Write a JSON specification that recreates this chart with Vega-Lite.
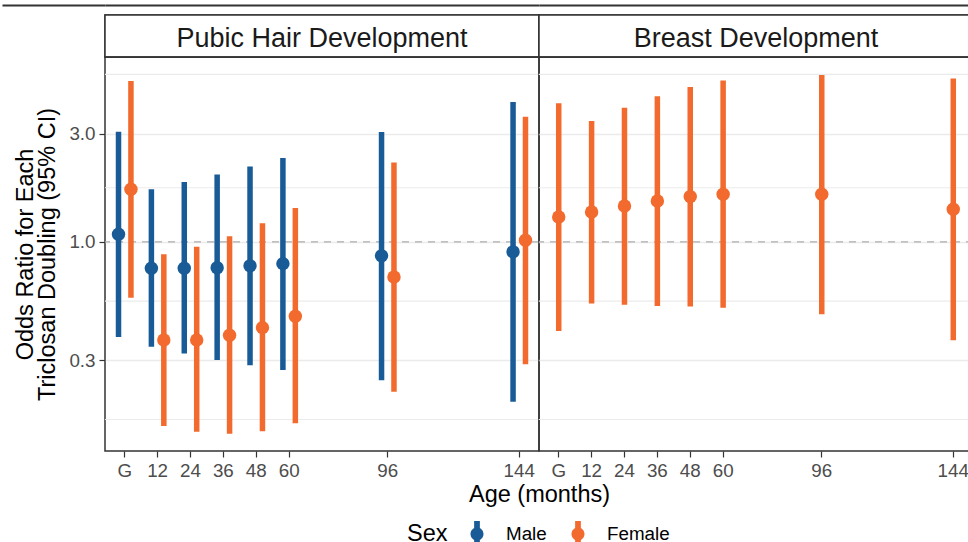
{
  "$schema": "https://vega.github.io/schema/vega-lite/v6.json",
  "padding": {"left": 0, "top": 3, "right": 0, "bottom": 0},
  "config": {
    "font": "Liberation Sans",
    "view": {"stroke": "#333333", "strokeWidth": 1.5},
    "axis": {"gridColor": "#EBEBEB", "gridWidth": 1.5}
  },
  "datasets": {
    "pubic": [
      {"age": 0, "Sex": "Male", "or": 1.080, "lower": 0.380, "upper": 3.06},
      {"age": 0, "Sex": "Female", "or": 1.707, "lower": 0.567, "upper": 5.13},
      {"age": 12, "Sex": "Male", "or": 0.765, "lower": 0.344, "upper": 1.707},
      {"age": 12, "Sex": "Female", "or": 0.369, "lower": 0.154, "upper": 0.882},
      {"age": 24, "Sex": "Male", "or": 0.765, "lower": 0.321, "upper": 1.838},
      {"age": 24, "Sex": "Female", "or": 0.369, "lower": 0.145, "upper": 0.950},
      {"age": 36, "Sex": "Male", "or": 0.769, "lower": 0.301, "upper": 1.980},
      {"age": 36, "Sex": "Female", "or": 0.387, "lower": 0.142, "upper": 1.059},
      {"age": 48, "Sex": "Male", "or": 0.783, "lower": 0.285, "upper": 2.147},
      {"age": 48, "Sex": "Female", "or": 0.418, "lower": 0.146, "upper": 1.208},
      {"age": 60, "Sex": "Male", "or": 0.801, "lower": 0.272, "upper": 2.346},
      {"age": 60, "Sex": "Female", "or": 0.469, "lower": 0.158, "upper": 1.411},
      {"age": 96, "Sex": "Male", "or": 0.867, "lower": 0.245, "upper": 3.055},
      {"age": 96, "Sex": "Female", "or": 0.700, "lower": 0.218, "upper": 2.236},
      {"age": 144, "Sex": "Male", "or": 0.903, "lower": 0.197, "upper": 4.143},
      {"age": 144, "Sex": "Female", "or": 1.016, "lower": 0.288, "upper": 3.568}
    ],
    "breast": [
      {"age": 0, "Sex": "Female", "or": 1.288, "lower": 0.404, "upper": 4.089},
      {"age": 12, "Sex": "Female", "or": 1.355, "lower": 0.534, "upper": 3.417},
      {"age": 24, "Sex": "Female", "or": 1.440, "lower": 0.527, "upper": 3.910},
      {"age": 36, "Sex": "Female", "or": 1.515, "lower": 0.521, "upper": 4.390},
      {"age": 48, "Sex": "Female", "or": 1.583, "lower": 0.518, "upper": 4.827},
      {"age": 60, "Sex": "Female", "or": 1.622, "lower": 0.512, "upper": 5.146},
      {"age": 96, "Sex": "Female", "or": 1.622, "lower": 0.479, "upper": 5.452},
      {"age": 144, "Sex": "Female", "or": 1.393, "lower": 0.368, "upper": 5.251}
    ],
    "minor": [{"g": 0.1643}, {"g": 0.5477}, {"g": 1.732}, {"g": 5.477}],
    "ref": [{"r": 1}],
    "strip1": [{"panel": "Pubic Hair Development", "pos": 0.5}],
    "strip2": [{"panel": "Breast Development", "pos": 0.5}]
  },
  "bounds": "flush",
  "spacing": 0,
  "columns": 2,
  "concat": [
    {
      "width": 434, "height": 42,
      "data": {"name": "strip1"},
      "layer": [
        {"mark": {"type": "rect", "fill": "#FFFFFF", "stroke": "#333333", "strokeWidth": 1.5}},
        {
          "mark": {"type": "text", "fontSize": 27, "color": "#1A1A1A", "dy": 3},
          "encoding": {
            "text": {"field": "panel"},
            "x": {"field": "pos", "type": "quantitative", "scale": {"domain": [0, 1]},
              "axis": {"orient": "top", "offset": 10, "domain": true, "domainColor": "#333333", "domainWidth": 2,
                "ticks": false, "labels": false, "grid": false, "title": null}},
            "y": {"field": "pos", "type": "quantitative", "scale": {"domain": [0, 1]},
              "axis": {"orient": "left", "values": [1], "domain": false, "tickSize": 103, "tickWidth": 2,
                "tickOffset": -10, "tickColor": "#333333", "labels": false, "grid": false, "title": null}}
          }
        }
      ]
    },
    {
      "width": 434, "height": 42,
      "data": {"name": "strip2"},
      "layer": [
        {"mark": {"type": "rect", "fill": "#FFFFFF", "stroke": "#333333", "strokeWidth": 1.5}},
        {
          "mark": {"type": "text", "fontSize": 27, "color": "#1A1A1A", "dy": 3},
          "encoding": {
            "text": {"field": "panel"},
            "x": {"field": "pos", "type": "quantitative", "scale": {"domain": [0, 1]},
              "axis": {"orient": "top", "offset": 10, "domain": true, "domainColor": "#333333", "domainWidth": 2,
                "ticks": false, "labels": false, "grid": false, "title": null}}
          }
        }
      ]
    },
    {
      "width": 434, "height": 394,
      "layer": [
        {
          "data": {"name": "minor"},
          "mark": {"type": "rule", "color": "#EBEBEB", "strokeWidth": 1.2},
          "encoding": {
            "y": {"field": "g", "type": "quantitative",
              "scale": {"type": "log", "domain": [0.1193, 6.541], "nice": false},
              "title": ["Odds Ratio for Each", "Triclosan Doubling (95% CI)"],
              "axis": {"values": [0.3, 1, 3], "format": ".1f", "domain": false,
                "tickSize": 6, "tickColor": "#333333", "tickWidth": 1.2,
                "labelFontSize": 18.8, "labelColor": "#4D4D4D", "labelPadding": 4,
                "titleFontSize": 23.5, "titleFontWeight": "normal", "titleColor": "#000000",
                "titleLineHeight": 22.5, "titleX": -73, "titleY": 197, "titleAlign": "center",
                "titleBaseline": "alphabetic", "titleAngle": -90}
            }
          }
        },
        {
          "data": {"name": "ref"},
          "mark": {"type": "rule", "color": "#ADADAD", "strokeDash": [7, 6], "strokeWidth": 1.3},
          "encoding": {"y": {"field": "r", "type": "quantitative", "title": ["Odds Ratio for Each", "Triclosan Doubling (95% CI)"]}}
        },
        {
          "data": {"name": "pubic"},
          "mark": {"type": "rule", "strokeWidth": 5.5},
          "encoding": {
            "x": {"field": "age", "type": "ordinal",
              "scale": {"type": "band", "domain": [0, 12, 24, 36, 48, 60, 72, 84, 96, 108, 120, 132, 144], "paddingInner": 0, "paddingOuter": 0.1},
              "title": "Age (months)",
              "axis": {"values": [0, 12, 24, 36, 48, 60, 96, 144], "labelAngle": 0,
                "labelExpr": "datum.value === 0 ? 'G' : datum.label",
                "grid": false, "domain": false, "tickSize": 6, "tickColor": "#333333", "tickWidth": 1.2,
                "labelFontSize": 18.8, "labelColor": "#4D4D4D", "labelPadding": 4,
                "titleFontSize": 23.5, "titleFontWeight": "normal", "titleColor": "#000000",
                "titleX": 434, "titleY": 50, "titleAlign": "center", "titleBaseline": "alphabetic"}},
            "xOffset": {"field": "Sex", "type": "nominal",
              "scale": {"domain": ["Male", "Female"], "paddingInner": 0, "paddingOuter": 0.3226}},
            "y": {"field": "lower", "type": "quantitative", "title": ["Odds Ratio for Each", "Triclosan Doubling (95% CI)"]},
            "y2": {"field": "upper"},
            "color": {"field": "Sex", "type": "nominal",
              "scale": {"domain": ["Male", "Female"], "range": ["#195B96", "#F26A2D"]},
              "legend": {"title": "Sex", "orient": "none", "legendX": 302, "legendY": 506,
                "direction": "horizontal", "titleOrient": "left", "titleFontSize": 23.5,
                "titleFontWeight": "normal", "titleColor": "#000000", "titlePadding": 16,
                "labelFontSize": 18.8, "labelColor": "#000000", "labelOffset": 16, "columnPadding": 18,
                "symbolType": "M-0.22,-1H0.22V1H-0.22Z M0,-0.5A0.5,0.5,0,1,1,0,0.5A0.5,0.5,0,1,1,0,-0.5Z",
                "symbolSize": 676, "symbolStrokeWidth": 0, "symbolOpacity": 1}}
          }
        },
        {
          "data": {"name": "pubic"},
          "mark": {"type": "point", "shape": "circle", "filled": true, "size": 180, "opacity": 1},
          "encoding": {
            "x": {"field": "age", "type": "ordinal", "title": "Age (months)"},
            "xOffset": {"field": "Sex", "type": "nominal"},
            "y": {"field": "or", "type": "quantitative", "title": ["Odds Ratio for Each", "Triclosan Doubling (95% CI)"]},
            "color": {"field": "Sex", "type": "nominal"}
          }
        }
      ]
    },
    {
      "width": 434, "height": 394,
      "layer": [
        {
          "data": {"name": "minor"},
          "mark": {"type": "rule", "color": "#EBEBEB", "strokeWidth": 1.2},
          "encoding": {
            "y": {"field": "g", "type": "quantitative",
              "scale": {"type": "log", "domain": [0.1193, 6.541], "nice": false},
              "title": null,
              "axis": {"values": [0.3, 1, 3], "labels": false, "ticks": false, "domain": false, "title": null}
            }
          }
        },
        {
          "data": {"name": "ref"},
          "mark": {"type": "rule", "color": "#ADADAD", "strokeDash": [7, 6], "strokeWidth": 1.3},
          "encoding": {"y": {"field": "r", "type": "quantitative", "title": null}}
        },
        {
          "data": {"name": "breast"},
          "mark": {"type": "rule", "strokeWidth": 5.5},
          "encoding": {
            "x": {"field": "age", "type": "ordinal",
              "scale": {"type": "band", "domain": [0, 12, 24, 36, 48, 60, 72, 84, 96, 108, 120, 132, 144], "paddingInner": 0, "paddingOuter": 0.1},
              "title": null,
              "axis": {"values": [0, 12, 24, 36, 48, 60, 96, 144], "labelAngle": 0,
                "labelExpr": "datum.value === 0 ? 'G' : datum.label",
                "grid": false, "domain": false, "tickSize": 6, "tickColor": "#333333", "tickWidth": 1.2,
                "labelFontSize": 18.8, "labelColor": "#4D4D4D", "labelPadding": 4}},
            "y": {"field": "lower", "type": "quantitative", "title": null},
            "y2": {"field": "upper"},
            "color": {"field": "Sex", "type": "nominal"}
          }
        },
        {
          "data": {"name": "breast"},
          "mark": {"type": "point", "shape": "circle", "filled": true, "size": 180, "opacity": 1},
          "encoding": {
            "x": {"field": "age", "type": "ordinal", "title": null},
            "y": {"field": "or", "type": "quantitative", "title": null},
            "color": {"field": "Sex", "type": "nominal"}
          }
        }
      ]
    }
  ]
}
